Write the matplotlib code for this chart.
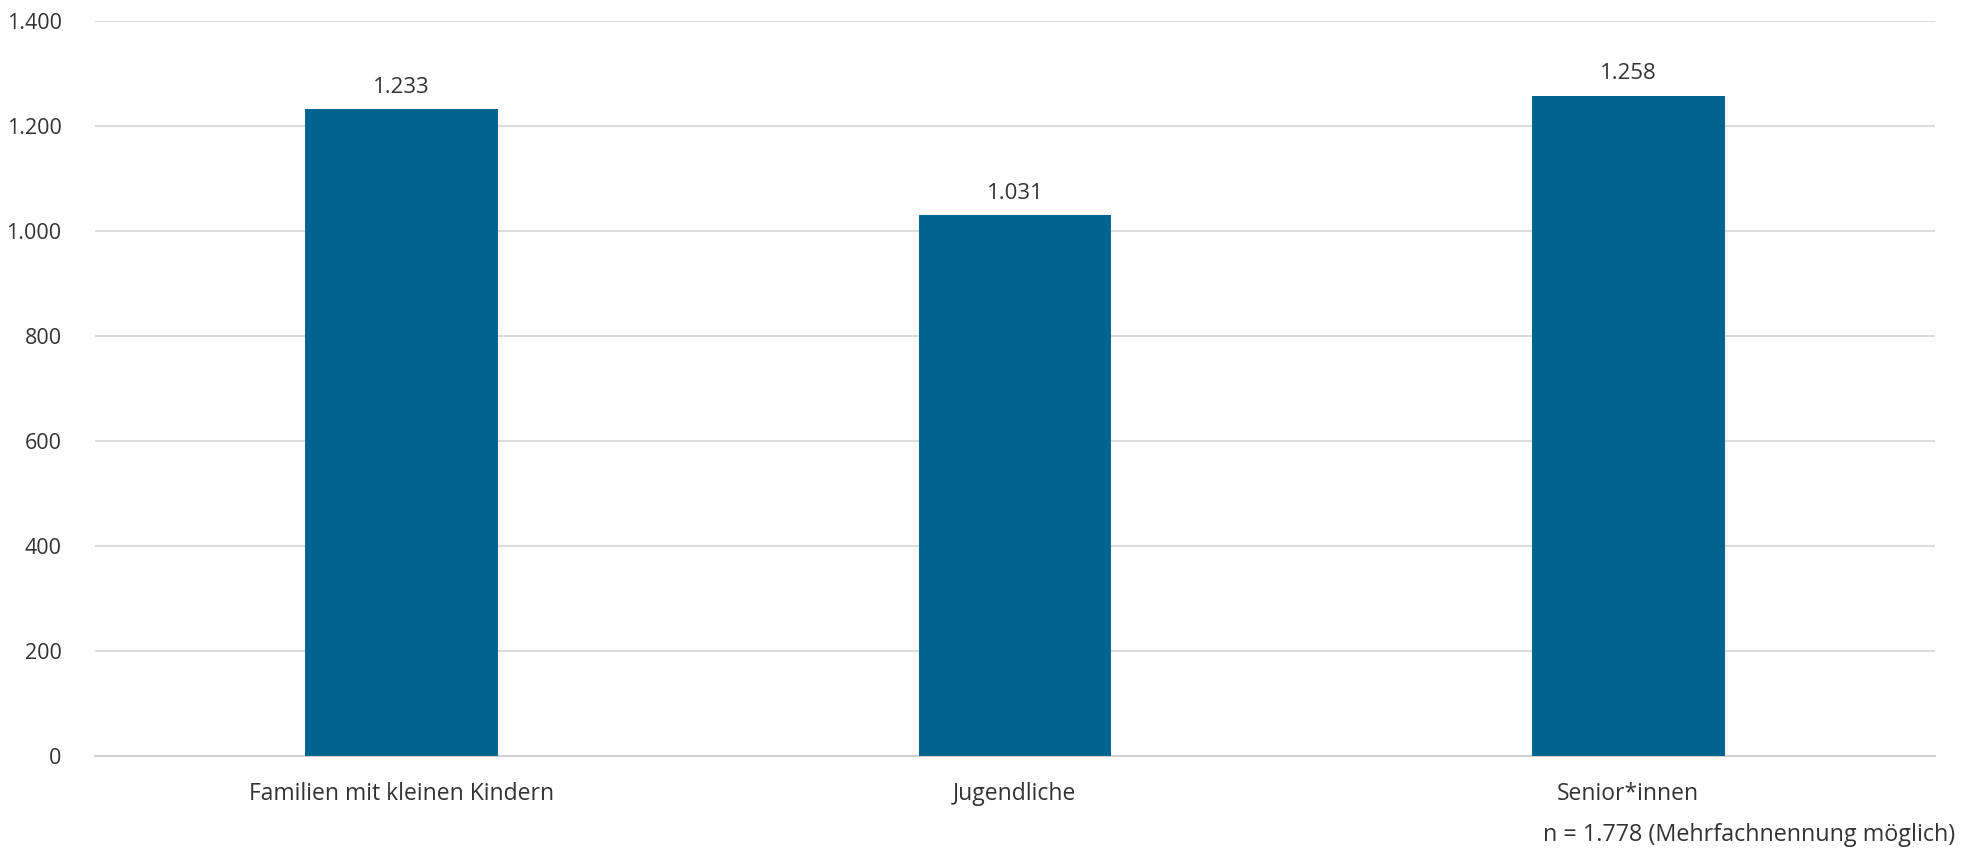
import matplotlib.pyplot as plt
from matplotlib.ticker import FuncFormatter

categories = ["Familien mit kleinen Kindern", "Jugendliche", "Senior*innen"]
values = [1233, 1031, 1258]
yticks = [0, 200, 400, 600, 800, 1000, 1200, 1400]
note = "n = 1.778 (Mehrfachnennung möglich)"

plt.rcParams["font.family"] = ["Open Sans", "DejaVu Sans"]
txt = "#333333"

def de(v):
    return f"{int(v):,}".replace(",", ".")

fig = plt.figure(figsize=(19.74, 8.52), dpi=100)
ax = fig.add_axes([0.0481, 0.1127, 0.9321, 0.8627])

x = range(len(categories))
bars = ax.bar(x, values, width=0.314, color="#00648F", zorder=3)
for b, v in zip(bars, values):
    ax.annotate(de(v), (b.get_x() + b.get_width() / 2, v), xytext=(0, 8),
                textcoords="offset points", ha="center", va="bottom",
                fontsize=16, color=txt)

ax.set_xlim(-0.5, 2.5)
ax.set_ylim(0, 1400)
ax.set_yticks(yticks)
ax.yaxis.set_major_formatter(FuncFormatter(lambda v, p: de(v)))
ax.set_xticks(list(x))
ax.set_xticklabels(categories, fontsize=16.5)
ax.grid(axis="y", color="#D9D9D9", linewidth=1.3, zorder=0)
for s in ["top", "right", "left"]:
    ax.spines[s].set_visible(False)
ax.spines["bottom"].set_color("#D0D0D0")
ax.spines["bottom"].set_linewidth(1.5)
ax.tick_params(axis="both", length=0, colors=txt)
ax.tick_params(axis="y", pad=24, labelsize=15.5)
ax.tick_params(axis="x", pad=19)

fig.text(0.9905, 0.006, note, ha="right", va="bottom", fontsize=16.8, color=txt)

fig.savefig("out.png", dpi=100)
